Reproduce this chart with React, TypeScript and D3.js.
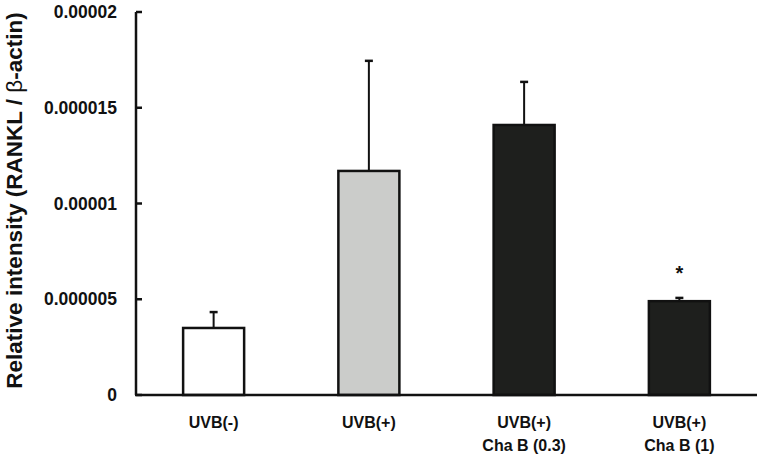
import React, { useEffect, useRef } from "react";
import * as d3 from "d3";

const groups = ["UVB(-)", "UVB(+)", "UVB(+) 0.3", "UVB(+) 1"];
const groupLines = [["UVB(-)"], ["UVB(+)"], ["UVB(+)", "Cha B (0.3)"], ["UVB(+)", "Cha B (1)"]];
const means = [0.0000035, 0.0000117, 0.0000141, 0.0000049];
const errors = [0.00000083, 0.00000575, 0.00000225, 0.00000017];
const fills = ["#ffffff", "#cbccca", "#1e1f1d", "#1e1f1d"];
const signif = ["", "", "", "*"];
const yTicks = [0, 0.000005, 0.00001, 0.000015, 0.00002];
const yTickLabels = ["0", "0.000005", "0.00001", "0.000015", "0.00002"];

const App = () => {
  const ref = useRef(null);

  const x = d3.scaleBand().domain(groups).range([136, 757]).paddingInner(0.607).paddingOuter(0.3035);
  const y = d3.scaleLinear().domain([0, 0.00002]).range([395, 12]);

  useEffect(() => {
    const g = d3.select(ref.current);
    g.selectAll("*").remove();
    const font = "'Liberation Sans', Arial, sans-serif";

    // bars
    g.selectAll("rect.bar")
      .data(means)
      .enter()
      .append("rect")
      .attr("class", "bar")
      .attr("x", (d, i) => x(groups[i]))
      .attr("y", d => y(d))
      .attr("width", x.bandwidth())
      .attr("height", d => y(0) - y(d))
      .attr("fill", (d, i) => fills[i])
      .attr("stroke", "#111")
      .attr("stroke-width", 2.5);

    // error bars (upper only)
    const eb = g.selectAll("g.err").data(means).enter().append("g").attr("class", "err");
    eb.append("line")
      .attr("x1", (d, i) => x(groups[i]) + x.bandwidth() / 2)
      .attr("x2", (d, i) => x(groups[i]) + x.bandwidth() / 2)
      .attr("y1", d => y(d))
      .attr("y2", (d, i) => y(d + errors[i]))
      .attr("stroke", "#111")
      .attr("stroke-width", 2);
    eb.append("line")
      .attr("x1", (d, i) => x(groups[i]) + x.bandwidth() / 2 - 4)
      .attr("x2", (d, i) => x(groups[i]) + x.bandwidth() / 2 + 4)
      .attr("y1", (d, i) => y(d + errors[i]))
      .attr("y2", (d, i) => y(d + errors[i]))
      .attr("stroke", "#111")
      .attr("stroke-width", 2.5);

    // significance marks
    g.selectAll("text.sig")
      .data(means)
      .enter()
      .append("text")
      .attr("class", "sig")
      .attr("x", (d, i) => x(groups[i]) + x.bandwidth() / 2)
      .attr("y", (d, i) => y(d + errors[i]) - 18)
      .attr("text-anchor", "middle")
      .style("font-family", font)
      .style("font-weight", "bold")
      .style("font-size", "20px")
      .style("fill", "#111")
      .text((d, i) => signif[i]);

    // axes
    g.append("line")
      .attr("x1", 136).attr("x2", 136)
      .attr("y1", y(0.00002)).attr("y2", y(0))
      .attr("stroke", "#111").attr("stroke-width", 2.5);
    g.append("line")
      .attr("x1", 135).attr("x2", 757)
      .attr("y1", y(0)).attr("y2", y(0))
      .attr("stroke", "#111").attr("stroke-width", 2.5);

    g.selectAll("line.tick")
      .data(yTicks)
      .enter()
      .append("line")
      .attr("class", "tick")
      .attr("x1", 136).attr("x2", 142)
      .attr("y1", d => y(d)).attr("y2", d => y(d))
      .attr("stroke", "#111").attr("stroke-width", 2.5);

    g.selectAll("text.ytick")
      .data(yTicks)
      .enter()
      .append("text")
      .attr("class", "ytick")
      .attr("x", 117)
      .attr("y", d => y(d) + 6)
      .attr("text-anchor", "end")
      .style("font-family", font)
      .style("font-weight", "bold")
      .style("font-size", "17.5px")
      .style("fill", "#111")
      .text((d, i) => yTickLabels[i]);

    // category labels
    const lab = g.selectAll("text.xlab")
      .data(groupLines)
      .enter()
      .append("text")
      .attr("class", "xlab")
      .attr("text-anchor", "middle")
      .style("font-family", font)
      .style("font-weight", "bold")
      .style("font-size", "16px")
      .style("fill", "#111");
    lab.each(function (lines, i) {
      const t = d3.select(this);
      lines.forEach((s, k) => {
        t.append("tspan")
          .attr("x", x(groups[i]) + x.bandwidth() / 2)
          .attr("y", 428 + k * 23)
          .text(s);
      });
    });

    // y axis title
    const title = g.append("text")
      .attr("transform", `translate(22, 200.5) rotate(-90)`)
      .attr("text-anchor", "middle")
      .style("font-family", font)
      .style("font-weight", "bold")
      .style("font-size", "22.5px")
      .style("fill", "#111");
    title.append("tspan").text("Relative intensity (RANKL / ");
    title.append("tspan").style("font-weight", "normal").text("β");
    title.append("tspan").text("-actin)");
  }, []);

  return (
    <svg width={762} height={458} style={{ position: "absolute", left: 0, top: 0, background: "#fff" }}>
      <g ref={ref} />
    </svg>
  );
};

export default App;
